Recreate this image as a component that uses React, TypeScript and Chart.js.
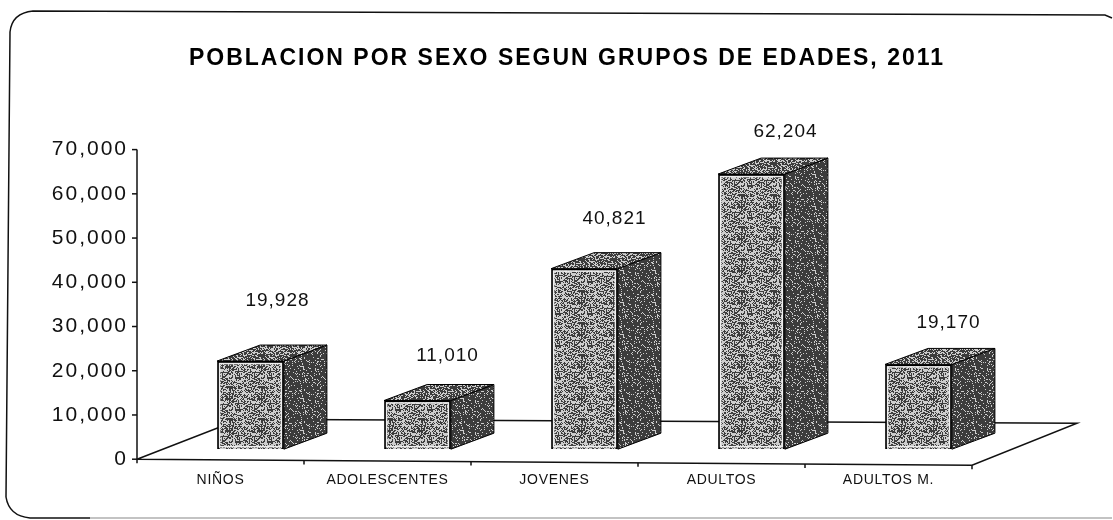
import React, { useEffect, useRef } from "react";
import { Chart, registerables } from "chart.js";

Chart.register(...registerables);

const categories = ["NIÑOS", "ADOLESCENTES", "JOVENES", "ADULTOS", "ADULTOS M."];
const poblacion = [19928, 11010, 40821, 62204, 19170];
const valueLabels = ["19,928", "11,010", "40,821", "62,204", "19,170"];
const yTicks = [0, 10000, 20000, 30000, 40000, 50000, 60000, 70000];
const titleText = "POBLACION POR SEXO SEGUN GRUPOS DE EDADES, 2011";

// deterministic stipple that imitates the fax-like dithering of the scan
function stipple(ctx: CanvasRenderingContext2D, dark: number) {
  const size = 32;
  const c = document.createElement("canvas");
  c.width = size;
  c.height = size;
  const x = c.getContext("2d")!;
  const img = x.createImageData(size, size);
  for (let j = 0; j < size; j++) {
    for (let i = 0; i < size; i++) {
      const h = Math.sin(i * 12.9898 + j * 78.233) * 43758.5453;
      const v = h - Math.floor(h);
      const g = v < dark ? 60 : 205;
      const k = (j * size + i) * 4;
      img.data[k] = g;
      img.data[k + 1] = g;
      img.data[k + 2] = g;
      img.data[k + 3] = 255;
    }
  }
  x.putImageData(img, 0, 0);
  return ctx.createPattern(c, "repeat")!;
}

const SHIFT_X = 30;
const SHIFT_Y = -10;
const DX = 43;
const DY = 16;
const LABEL_DX = [27, 30, 30, 34, 30];
const LABEL_DY = [-60, -45, -50, -42, -42];

const box3d = {
  id: "box3d",
  beforeDatasetsDraw(chart: any) {
    const { ctx, chartArea, scales } = chart;
    const { left, right, bottom, top } = chartArea;
    ctx.save();
    ctx.strokeStyle = "#111";
    ctx.lineWidth = 1.5;
    // floor
    ctx.beginPath();
    ctx.moveTo(left, bottom);
    ctx.lineTo(left + 103, bottom - 40);
    ctx.lineTo(right + 105, bottom - 36);
    ctx.lineTo(right, bottom + 6);
    ctx.lineTo(left, bottom);
    ctx.stroke();
    // y axis
    ctx.beginPath();
    ctx.moveTo(left, top);
    ctx.lineTo(left, bottom + 4);
    ctx.stroke();
    // ticks
    for (const t of yTicks) {
      const y = scales.y.getPixelForValue(t);
      ctx.beginPath();
      ctx.moveTo(left - 5, y);
      ctx.lineTo(left, y);
      ctx.stroke();
    }
    for (let i = 1; i <= categories.length; i++) {
      const x = left + ((right - left) * i) / categories.length;
      const y = bottom + (6 * i) / categories.length;
      ctx.beginPath();
      ctx.moveTo(x, y);
      ctx.lineTo(x, y + 4);
      ctx.stroke();
    }
    ctx.restore();

    // side and top faces
    const meta = chart.getDatasetMeta(0);
    const topPat = stipple(ctx, 0.62);
    const sidePat = stipple(ctx, 0.85);
    ctx.save();
    ctx.translate(SHIFT_X, SHIFT_Y);
    for (const el of meta.data) {
      const xl = el.x - el.width / 2;
      const xr = el.x + el.width / 2;
      const yt = el.y;
      const yb = el.base;
      ctx.lineWidth = 1;
      ctx.strokeStyle = "#000";
      ctx.fillStyle = sidePat;
      ctx.beginPath();
      ctx.moveTo(xr, yt);
      ctx.lineTo(xr + DX, yt - DY);
      ctx.lineTo(xr + DX, yb - DY);
      ctx.lineTo(xr, yb);
      ctx.closePath();
      ctx.fill();
      ctx.stroke();
      ctx.fillStyle = topPat;
      ctx.beginPath();
      ctx.moveTo(xl, yt);
      ctx.lineTo(xl + DX, yt - DY);
      ctx.lineTo(xr + DX, yt - DY);
      ctx.lineTo(xr, yt);
      ctx.closePath();
      ctx.fill();
      ctx.stroke();
    }
    ctx.restore();
    ctx.save();
    ctx.translate(SHIFT_X, SHIFT_Y);
  },
  afterDatasetsDraw(chart: any) {
    const { ctx } = chart;
    const meta = chart.getDatasetMeta(0);
    // light halo inside the front face
    ctx.strokeStyle = "#eee";
    ctx.lineWidth = 1.5;
    for (const el of meta.data) {
      const xl = el.x - el.width / 2;
      ctx.strokeRect(xl + 2.5, el.y + 2.5, el.width - 5, el.base - el.y - 5);
    }
    ctx.restore();
    ctx.save();
    ctx.font = "19px 'Liberation Sans', Arial, sans-serif";
    (ctx as any).letterSpacing = "1px";
    ctx.fillStyle = "#111";
    ctx.textAlign = "center";
    ctx.textBaseline = "middle";
    meta.data.forEach((el: any, i: number) => {
      ctx.fillText(
        valueLabels[i],
        el.x + SHIFT_X + LABEL_DX[i],
        el.y + SHIFT_Y + LABEL_DY[i]
      );
    });
    ctx.restore();
    // the x labels are drawn after the datasets, with tighter spacing
    (ctx as any).letterSpacing = "0.7px";
  },
};

const frame = {
  id: "frame",
  afterLayout(chart: any) {
    // centre the title over the whole drawing, not only the plot
    if (chart.titleBlock) chart.titleBlock.left += 162;
  },
  beforeDraw(chart: any) {
    const { ctx } = chart;
    ctx.save();
    ctx.fillStyle = "#fff";
    ctx.fillRect(0, 0, chart.width, chart.height);
    ctx.lineWidth = 1.5;
    ctx.strokeStyle = "#111";
    ctx.beginPath();
    ctx.moveTo(1112, 18);
    ctx.lineTo(1105, 15);
    ctx.lineTo(33, 11);
    ctx.quadraticCurveTo(12, 13, 10, 32);
    ctx.lineTo(6, 497);
    ctx.quadraticCurveTo(9, 516, 30, 518);
    ctx.lineTo(90, 518);
    ctx.stroke();
    ctx.strokeStyle = "#888";
    ctx.lineWidth = 1.2;
    ctx.beginPath();
    ctx.moveTo(90, 518);
    ctx.lineTo(1112, 518);
    ctx.stroke();
    ctx.restore();
    (ctx as any).letterSpacing = "2px";
  },
};

export default function App() {
  const ref = useRef<HTMLCanvasElement>(null);
  useEffect(() => {
    const ctx = ref.current!.getContext("2d")!;
    const chart = new Chart(ctx, {
      type: "bar",
      data: {
        labels: categories,
        datasets: [
          {
            data: poblacion,
            backgroundColor: stipple(ctx, 0.5),
            borderColor: "#000",
            borderWidth: 2,
            barPercentage: 0.8,
            categoryPercentage: 0.5,
          },
        ],
      },
      options: {
        animation: false,
        responsive: false,
        layout: { padding: { left: 0, right: 141, top: 45, bottom: 18 } },
        plugins: {
          legend: { display: false },
          tooltip: { enabled: false },
          title: {
            display: true,
            text: titleText,
            color: "#000",
            font: { family: "'Liberation Sans', Arial, sans-serif", size: 23, weight: "bold" },
            padding: { top: 0, bottom: 77 },
          },
        },
        scales: {
          x: {
            grid: { display: false, drawTicks: false },
            border: { display: false },
            ticks: {
              z: 1,
              color: "#111",
              font: { family: "'Liberation Sans', Arial, sans-serif", size: 14 },
              padding: 13,
              maxRotation: 0,
              autoSkip: false,
            },
          },
          y: {
            min: 0,
            max: 70000,
            grid: { display: false, drawTicks: false },
            border: { display: false },
            afterFit: (s: any) => {
              s.width = 137;
            },
            ticks: {
              stepSize: 10000,
              color: "#111",
              padding: 9,
              font: { family: "'Liberation Sans', Arial, sans-serif", size: 21 },
              callback: (v: any) => Number(v).toLocaleString("en-US"),
            },
          },
        },
      },
      plugins: [frame, box3d],
    });
    return () => chart.destroy();
  }, []);
  return (
    <canvas
      ref={ref}
      width={1113}
      height={520}
      style={{ position: "fixed", left: 0, top: 0, display: "block" }}
    />
  );
}
